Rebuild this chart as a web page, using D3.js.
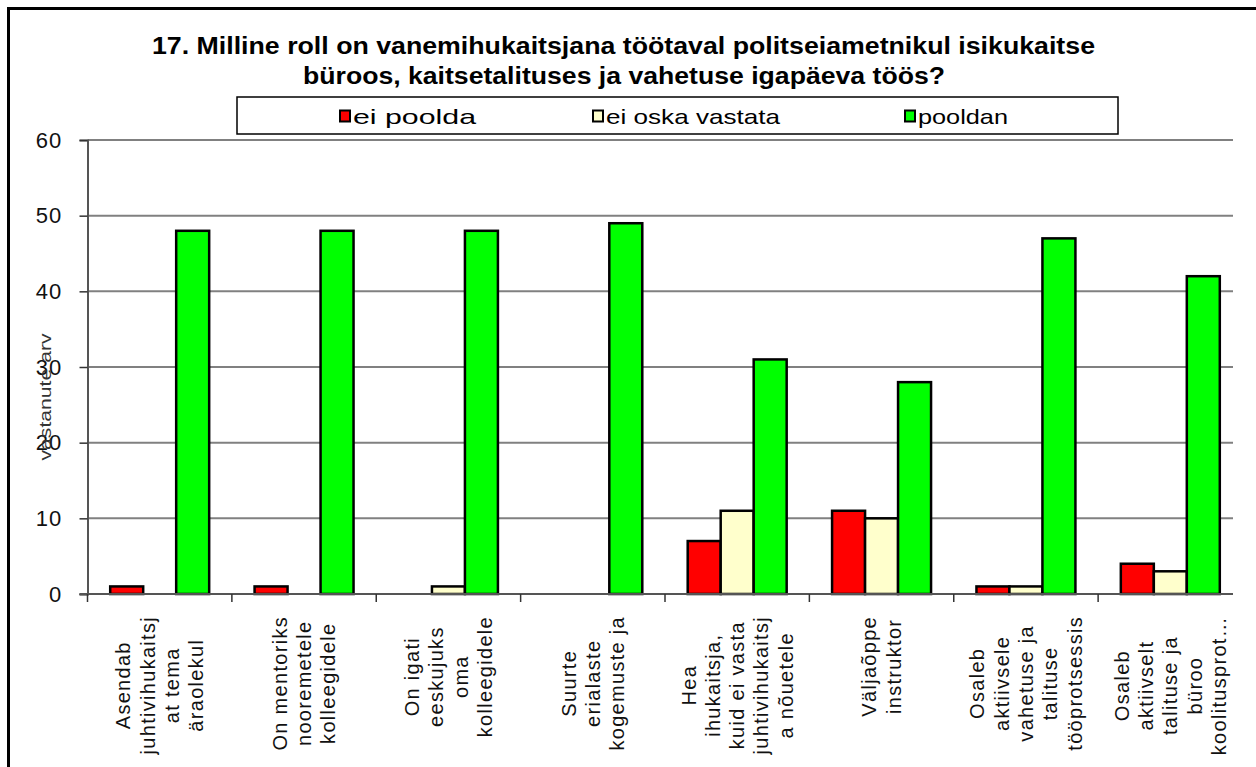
<!DOCTYPE html>
<html>
<head>
<meta charset="utf-8">
<script src="https://cdn.jsdelivr.net/npm/d3@7"></script>
<style>
  html, body { margin: 0; padding: 0; background: #fff; }
  svg { display: block; font-family: "Liberation Sans", Arial, sans-serif; }
</style>
</head>
<body>
<svg id="chart" width="1256" height="767"></svg>
<script>
// ---- data ----
const categories = [
  ["Asendab", "juhtivihukaitsj", "at tema", "äraolekul"],
  ["On mentoriks", "nooremetele", "kolleegidele"],
  ["On igati", "eeskujuks", "oma", "kolleegidele"],
  ["Suurte", "erialaste", "kogemuste ja"],
  ["Hea", "ihukaitsja,", "kuid ei vasta", "juhtivihukaitsj", "a nõuetele"],
  ["Väljaõppe", "instruktor"],
  ["Osaleb", "aktiivsele", "vahetuse ja", "talituse", "tööprotsessis"],
  ["Osaleb", "aktiivselt", "talituse ja", "büroo", "koolitusprot…"]
];
const seriesNames = ["ei poolda", "ei oska vastata", "pooldan"];
const eiPoolda     = [1, 1, 0, 0, 7, 11, 1, 4];
const eiOskaVastata = [0, 0, 1, 0, 11, 10, 1, 3];
const pooldan      = [48, 48, 48, 49, 31, 28, 47, 42];
const yTicks = [0, 10, 20, 30, 40, 50, 60];
const titleLines = [
  "17. Milline roll on vanemihukaitsjana töötaval politseiametnikul isikukaitse",
  "büroos, kaitsetalituses ja vahetuse igapäeva töös?"
];
const yTitle = "vastanute arv";
const colors = ["#FF0000", "#FFFFCC", "#00FF00"];

const seriesValues = [eiPoolda, eiOskaVastata, pooldan];

// ---- layout ----
const svg = d3.select("#chart");
const plotLeft = 87.5, plotRightBand = 1242.5, plotRightVisible = 1233;
const plotTop = 140, plotBottom = 594;

// outer frame
svg.append("rect").attr("x", 8.5).attr("y", 8.5).attr("width", 1400).attr("height", 900)
  .attr("fill", "none").attr("stroke", "#000").attr("stroke-width", 3);

const idx = d3.range(categories.length);
const x0 = d3.scaleBand().domain(idx).range([plotLeft, plotRightBand]).padding(0);
const bw = x0.bandwidth();
const x1 = d3.scaleBand().domain(d3.range(seriesNames.length)).range([22.7, bw - 22.7]).padding(0);
const y = d3.scaleLinear().domain([0, 60]).range([plotBottom, plotTop]);

// gridlines
svg.append("g").selectAll("line").data(yTicks.filter(t => t > 0)).join("line")
  .attr("x1", plotLeft).attr("x2", plotRightVisible)
  .attr("y1", d => y(d)).attr("y2", d => y(d))
  .attr("stroke", "#808080").attr("stroke-width", 2);

// y axis
const yAxis = d3.axisLeft(y).tickValues(yTicks).tickSize(8).tickPadding(17);
const yg = svg.append("g").attr("transform", `translate(${plotLeft},0)`).call(yAxis);
yg.select(".domain").attr("stroke", "#555").attr("stroke-width", 2);
yg.selectAll(".tick line").attr("stroke", "#333").attr("stroke-width", 1.5);
yg.selectAll(".tick text").attr("font-size", 22).attr("fill", "#111")
  .attr("font-family", "'Liberation Sans', Arial, sans-serif").style("letter-spacing", "1.2px");

// bars
idx.forEach(i => {
  seriesValues.forEach((vals, s) => {
    const v = vals[i];
    if (v <= 0) return;
    svg.append("rect")
      .attr("x", x0(i) + x1(s))
      .attr("y", y(v))
      .attr("width", x1.bandwidth())
      .attr("height", y(0) - y(v))
      .attr("fill", colors[s])
      .attr("stroke", "#000").attr("stroke-width", 2.5);
  });
});

// baseline
svg.append("line").attr("x1", plotLeft - 8).attr("x2", plotRightVisible)
  .attr("y1", y(0)).attr("y2", y(0)).attr("stroke", "#555").attr("stroke-width", 2);
// x ticks
svg.append("g").selectAll("line").data(idx).join("line")
  .attr("x1", d => x0(d)).attr("x2", d => x0(d))
  .attr("y1", y(0)).attr("y2", y(0) + 8).attr("stroke", "#333").attr("stroke-width", 1.5);

// x labels (rotated, multi-line, block top-anchored near axis)
const labelTop = 616, lineGap = 24.3;
idx.forEach(i => {
  const lines = categories[i];
  const cx = x0(i) + bw / 2;
  const n = lines.length;
  const g = svg.append("g");
  const tmp = svg.append("text").attr("font-size", 20).style("letter-spacing", "1.3px");
  let maxW = 0;
  lines.forEach(l => { tmp.text(l); maxW = Math.max(maxW, tmp.node().getComputedTextLength()); });
  tmp.remove();
  const cy = labelTop + maxW / 2;
  lines.forEach((l, k) => {
    const lx = cx + (k - (n - 1) / 2) * lineGap;
    g.append("text")
      .attr("transform", `translate(${lx},${cy}) rotate(-90)`)
      .attr("text-anchor", "middle").attr("dominant-baseline", "central")
      .attr("font-size", 20).style("letter-spacing", "1.3px")
      .attr("fill", "#111").text(l);
  });
});

// y title
svg.append("text")
  .attr("transform", `translate(45,397) rotate(-90)`)
  .attr("text-anchor", "middle").attr("dominant-baseline", "central")
  .attr("font-size", 17).attr("fill", "#333")
  .attr("textLength", 127).attr("lengthAdjust", "spacingAndGlyphs")
  .text(yTitle);

// title
const titleSpecs = [{cx: 623.5, cy: 46, w: 943}, {cx: 624, cy: 76, w: 642}];
titleLines.forEach((t, k) => {
  svg.append("text")
    .attr("x", titleSpecs[k].cx).attr("y", titleSpecs[k].cy)
    .attr("text-anchor", "middle").attr("dominant-baseline", "central")
    .attr("font-size", 23).attr("font-weight", "bold").attr("fill", "#000")
    .attr("textLength", titleSpecs[k].w).attr("lengthAdjust", "spacingAndGlyphs")
    .text(t);
});

// legend
svg.append("rect").attr("x", 237).attr("y", 97).attr("width", 881).attr("height", 37)
  .attr("fill", "#fff").attr("stroke", "#000").attr("stroke-width", 1.5);
const legendX = [340, 593, 905];
const legendW = [123, 174, 90];
seriesNames.forEach((name, s) => {
  svg.append("rect").attr("x", legendX[s]).attr("y", 110.5).attr("width", 10).attr("height", 11)
    .attr("fill", colors[s]).attr("stroke", "#000").attr("stroke-width", 2);
  svg.append("text").attr("x", legendX[s] + 13).attr("y", 116)
    .attr("dominant-baseline", "central").attr("font-size", 21).attr("fill", "#000")
    .attr("textLength", legendW[s]).attr("lengthAdjust", "spacingAndGlyphs")
    .text(name);
});
</script>
</body>
</html>
